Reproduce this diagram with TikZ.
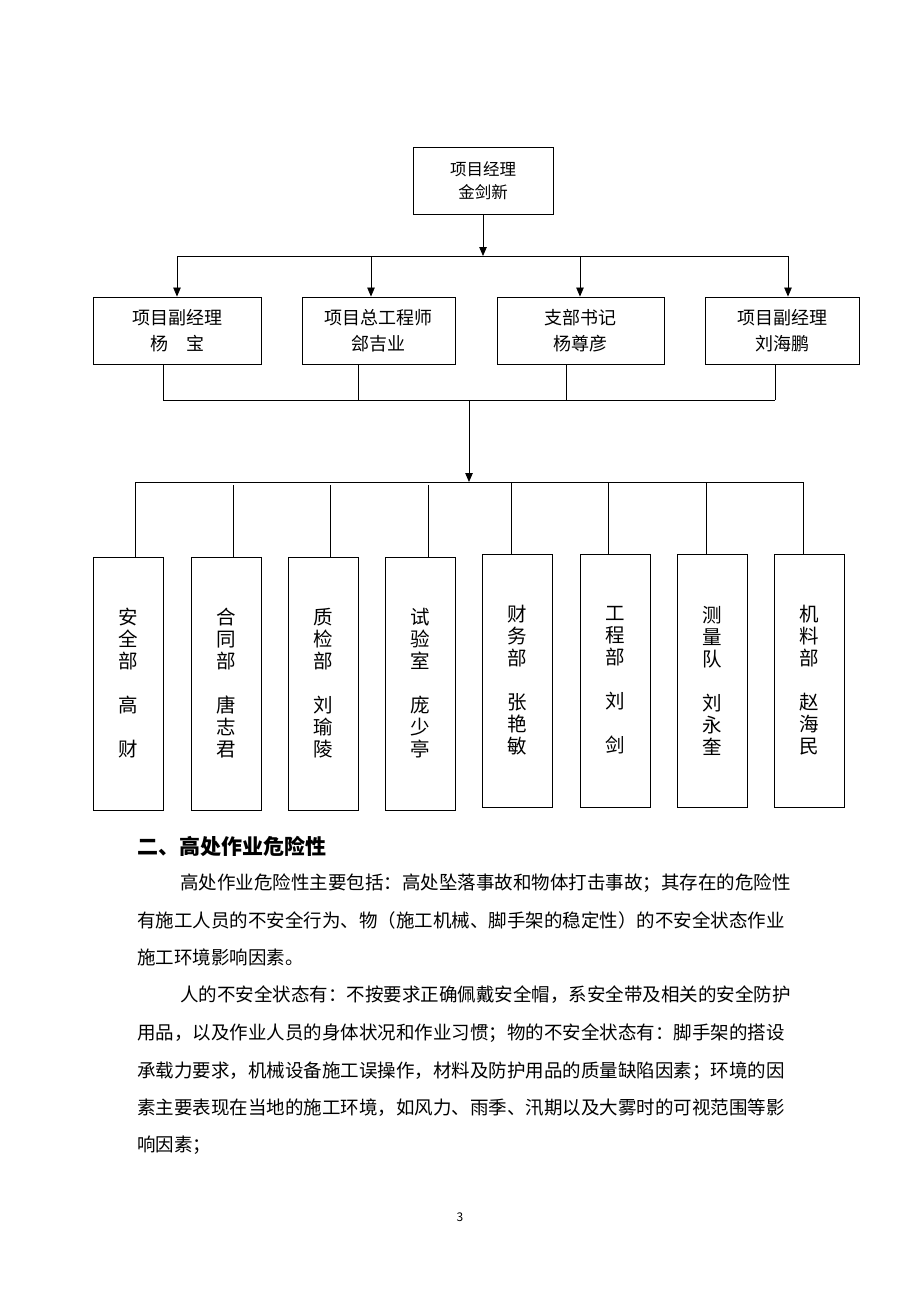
\documentclass[tikz,border=0pt]{standalone}
\usepackage{fontspec}
\newfontfamily\cjk{Noto Sans CJK SC}
\usetikzlibrary{arrows.meta}

\tikzset{
  orgbox/.style={draw, line width=0.9pt, inner sep=0pt, align=center},
  topbox/.style={orgbox, minimum width=140pt, minimum height=67pt, font=\cjk\fontsize{16.5}{23}\selectfont},
  midbox/.style={orgbox, minimum height=67pt, font=\cjk\fontsize{18}{26}\selectfont},
  deptbox/.style={orgbox, minimum width=70pt, minimum height=253pt, font=\cjk\fontsize{19.5}{22}\selectfont},
  link/.style={line width=0.8pt},
  arr/.style={link, -{Triangle[length=9pt,width=7.5pt]}},
  headline/.style={anchor=west, inner sep=0pt, font=\cjk\bfseries\fontsize{21}{21}\selectfont},
  bodyline/.style={anchor=west, inner sep=0pt, font=\cjk\fontsize{18.5}{18.5}\selectfont}
}

\begin{document}
\begin{tikzpicture}[x=1pt, y=-1pt]
  \useasboundingbox[fill=white] (0,0) rectangle (920,1302);
  % manager
  \node[topbox] (top) at (483,180.5) {项目经理\\金剑新};
  % deputies
  \foreach \i/\cx/\w/\txt in {1/177/168/{项目副经理\\杨　宝}, 2/378.5/153/{项目总工程师\\郐吉业},
      3/580.5/167/{支部书记\\杨尊彦}, 4/782/154/{项目副经理\\刘海鹏}} {
    \node[midbox, minimum width=\w pt] (d\i) at (\cx,330.5) {\txt};
  }
  % departments
  \foreach \i/\cx/\cy/\txt in {1/128/683.5/{安\\全\\部\\[22pt]高\\[22pt]财},
      2/226/683.5/{合\\同\\部\\[22pt]唐\\志\\君},
      3/323/683.5/{质\\检\\部\\[22pt]刘\\瑜\\陵},
      4/420.5/683.5/{试\\验\\室\\[22pt]庞\\少\\亭},
      5/517.5/680.5/{财\\务\\部\\[22pt]张\\艳\\敏},
      6/615/680.5/{工\\程\\部\\[22pt]刘\\[22pt]剑},
      7/712/680.5/{测\\量\\队\\[22pt]刘\\永\\奎},
      8/809.5/680.5/{机\\料\\部\\[22pt]赵\\海\\民}} {
    \node[deptbox] (b\i) at (\cx,\cy) {\txt};
  }
  % bus lines
  \coordinate (bus1) at (0,256);
  \coordinate (bus2) at (0,400);
  \coordinate (bus3) at (0,482);
  \coordinate (hub) at (469,400);
  \draw[arr] (top.south) -- (top.south |- bus1);
  \draw[link] (d1.north |- bus1) -- ([xshift=6pt]d4.north |- bus1);
  \foreach \i/\dx in {1/0, 2/-7.5, 3/-0.5, 4/6} {
    \draw[arr] ([xshift=\dx pt]d\i.north |- bus1) -- ([xshift=\dx pt]d\i.north);
  }
  \foreach \i/\dx in {1/-14, 2/-20.5, 3/-14.5, 4/-7} {
    \draw[link] ([xshift=\dx pt]d\i.south) -- ([xshift=\dx pt]d\i.south |- bus2);
  }
  \draw[link] ([xshift=-14pt]d1.south |- bus2) -- ([xshift=-7pt]d4.south |- bus2);
  \draw[arr] (hub) -- (hub |- bus3);
  \draw[link] ([xshift=7pt]b1.north |- bus3) -- ([xshift=-7pt]b8.north |- bus3);
  \foreach \i/\dx/\gap in {1/7/0, 2/7/3, 3/7/3, 4/7.5/3, 5/-6.5/0, 6/-7/0, 7/-6/0, 8/-6.5/0} {
    \draw[link] ([xshift=\dx pt, yshift=-\gap pt]b\i.north |- bus3) -- ([xshift=\dx pt]b\i.north);
  }
  % text below the chart
  \node[headline] (head) at (137,846) {二、高处作业危险性};
  \foreach \i/\x/\y/\txt in {1/180/883/{高处作业危险性主要包括：高处坠落事故和物体打击事故；其存在的危险性},
      2/137/920/{有施工人员的不安全行为、物（施工机械、脚手架的稳定性）的不安全状态作业},
      3/137/957/{施工环境影响因素。},
      4/180/995/{人的不安全状态有：不按要求正确佩戴安全帽，系安全带及相关的安全防护},
      5/137/1033/{用品，以及作业人员的身体状况和作业习惯；物的不安全状态有：脚手架的搭设},
      6/137/1071/{承载力要求，机械设备施工误操作，材料及防护用品的质量缺陷因素；环境的因},
      7/137/1108/{素主要表现在当地的施工环境，如风力、雨季、汛期以及大雾时的可视范围等影},
      8/137/1145/{响因素；}} {
    \node[bodyline] (line\i) at (\x,\y) {\txt};
  }
  \node[font=\cjk\fontsize{12}{12}\selectfont] (page) at (460,1217) {3};
\end{tikzpicture}
\end{document}
